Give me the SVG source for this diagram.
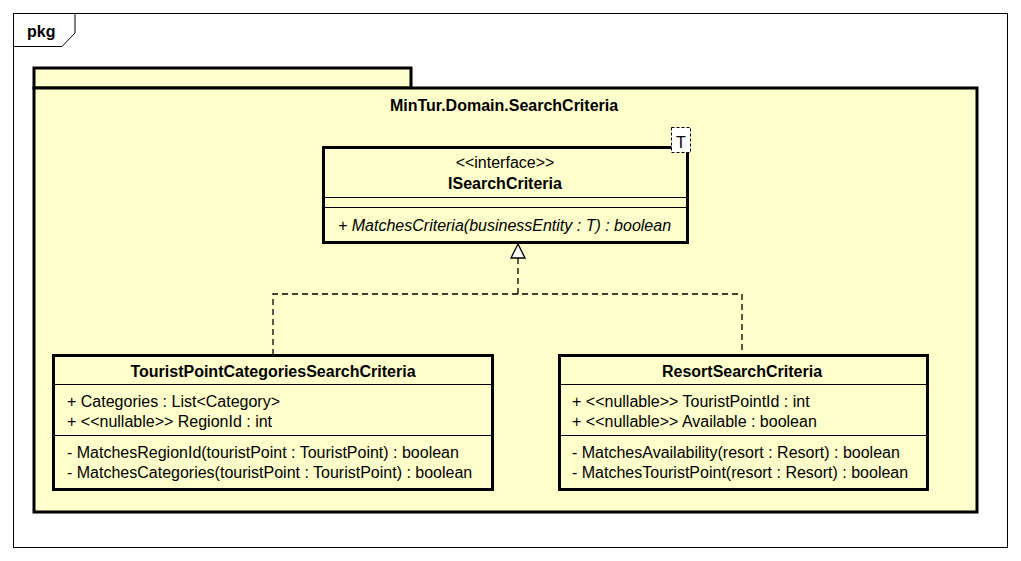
<svg xmlns="http://www.w3.org/2000/svg" width="1021" height="561" viewBox="0 0 1021 561">
<style>
text{font-family:"Liberation Sans",Arial,sans-serif;font-size:16px;fill:#000}
.b{font-weight:bold}
.i{font-style:italic}
.c{text-anchor:middle}
.box{fill:#ffffcc;stroke:#000;stroke-width:3}
.sep{stroke:#000;stroke-width:1}
.dash{fill:none;stroke:#000;stroke-width:1.3;stroke-dasharray:6,4}
</style>
<rect width="1021" height="561" fill="#fff"/>
<g id="frame">
<rect x="13.5" y="13.5" width="994" height="534" fill="none" stroke="#000" stroke-width="1"/>
<path d="M13.5,46.5 H62 L75,33 V13.5" fill="none" stroke="#000" stroke-width="1"/>
<text x="27" y="37" class="b" font-size="17">pkg</text>
</g>
<g id="package">
<rect x="34" y="68" width="377" height="20" class="box"/>
<rect x="34" y="88" width="943" height="424" class="box"/>
<text x="504" y="111" class="b c">MinTur.Domain.SearchCriteria</text>
</g>
<g id="connectors">
<path d="M518,258 V294 M273,355 V294 H742 V355" class="dash"/>
<polygon points="518,244 511,258 525,258" fill="#fff" stroke="#000" stroke-width="1.3"/>
</g>
<g id="ISearchCriteria">
<rect x="323.5" y="147.5" width="364" height="95" class="box"/>
<line x1="323" y1="197.5" x2="687" y2="197.5" class="sep"/>
<line x1="323" y1="207.5" x2="687" y2="207.5" class="sep"/>
<text x="505" y="168" class="c" font-size="14.5">&lt;&lt;interface&gt;&gt;</text>
<text x="505" y="189" class="b c">ISearchCriteria</text>
<text x="338" y="231" class="i">+ MatchesCriteria(businessEntity : T) : boolean</text>
<rect x="671.5" y="127.5" width="19" height="25" fill="#fff" stroke="#000" stroke-width="1" stroke-dasharray="3,2"/>
<text x="681" y="148" class="c">T</text>
</g>
<g id="TouristPointCategoriesSearchCriteria">
<rect x="53.5" y="355.5" width="439" height="134" class="box"/>
<line x1="53" y1="384.5" x2="493" y2="384.5" class="sep"/>
<line x1="53" y1="435.5" x2="493" y2="435.5" class="sep"/>
<text x="273" y="377" class="b c">TouristPointCategoriesSearchCriteria</text>
<text x="67" y="407">+ Categories : List&lt;Category&gt;</text>
<text x="67" y="427">+ &lt;&lt;nullable&gt;&gt; RegionId : int</text>
<text x="67" y="458">- MatchesRegionId(touristPoint : TouristPoint) : boolean</text>
<text x="67" y="478">- MatchesCategories(touristPoint : TouristPoint) : boolean</text>
</g>
<g id="ResortSearchCriteria">
<rect x="559.5" y="355.5" width="368" height="134" class="box"/>
<line x1="559" y1="384.5" x2="928" y2="384.5" class="sep"/>
<line x1="559" y1="435.5" x2="928" y2="435.5" class="sep"/>
<text x="742" y="377" class="b c">ResortSearchCriteria</text>
<text x="572" y="407">+ &lt;&lt;nullable&gt;&gt; TouristPointId : int</text>
<text x="572" y="427">+ &lt;&lt;nullable&gt;&gt; Available : boolean</text>
<text x="572" y="458">- MatchesAvailability(resort : Resort) : boolean</text>
<text x="572" y="478">- MatchesTouristPoint(resort : Resort) : boolean</text>
</g>
</svg>
